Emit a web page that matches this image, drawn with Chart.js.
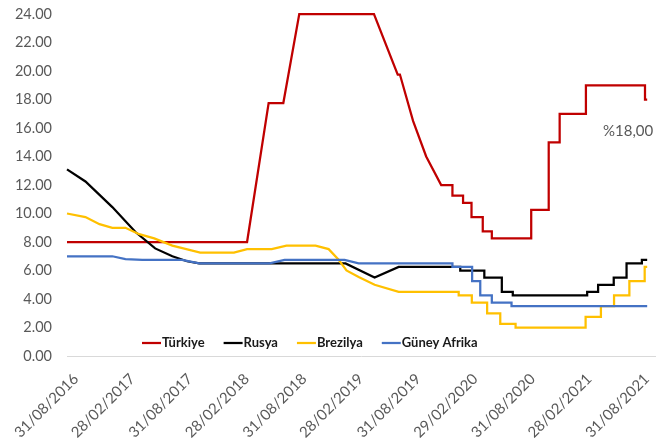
<!DOCTYPE html>
<html>
<head>
<meta charset="utf-8">
<script src="https://cdn.jsdelivr.net/npm/chart.js@4"></script>
<style>
  body { margin: 0; background: #fff; }
  #wrap { width: 658px; height: 442px; }
</style>
</head>
<body>
<div id="wrap"><canvas id="rateChart" width="658" height="442"></canvas></div>
<script>
// Tick labels on the date axis
const tickLabels = ["31/08/2016", "28/02/2017", "31/08/2017", "28/02/2018", "31/08/2018", "28/02/2019",
                    "31/08/2019", "29/02/2020", "31/08/2020", "28/02/2021", "31/08/2021"];
const axisStart = "2016-08-31";
const axisEnd = "2021-10-25";

const seriesNames = ["Türkiye", "Rusya", "Brezilya", "Güney Afrika"];

// Türkiye
const trDates = ["2016-08-31", "2018-03-30", "2018-06-07", "2018-07-24", "2018-09-13", "2019-05-10", "2019-07-25",
                 "2019-08-01", "2019-09-12", "2019-10-24", "2019-12-11", "2020-01-16", "2020-01-16", "2020-02-19",
                 "2020-02-19", "2020-03-17", "2020-03-17", "2020-04-22", "2020-04-22", "2020-05-21", "2020-05-21",
                 "2020-09-24", "2020-09-24", "2020-11-19", "2020-11-19", "2020-12-24", "2020-12-24", "2021-03-18",
                 "2021-03-18", "2021-09-23", "2021-09-23", "2021-09-30"];
const trValues = [8, 8, 17.75, 17.75, 24, 24, 19.75,
                  19.75, 16.5, 14, 12, 12, 11.25, 11.25,
                  10.75, 10.75, 9.75, 9.75, 8.75, 8.75, 8.25,
                  8.25, 10.25, 10.25, 15, 15, 17, 17,
                  19, 19, 18, 18];

// Rusya
const ruDates = ["2016-08-31", "2016-10-29", "2017-01-23", "2017-04-07", "2017-06-09", "2017-08-03", "2017-09-19",
                 "2017-10-28", "2019-02-08", "2019-05-12", "2019-07-28", "2020-02-10", "2020-02-10", "2020-04-27",
                 "2020-04-27", "2020-06-22", "2020-06-22", "2020-07-27", "2020-07-27", "2021-03-22", "2021-03-22",
                 "2021-04-26", "2021-04-26", "2021-06-15", "2021-06-15", "2021-07-26", "2021-07-26", "2021-09-13",
                 "2021-09-13", "2021-09-30"];
const ruValues = [13.1, 12.25, 10.45, 8.7, 7.55, 7.0, 6.65,
                  6.5, 6.5, 5.5, 6.25, 6.25, 6.0, 6.0,
                  5.5, 5.5, 4.5, 4.5, 4.25, 4.25, 4.5,
                  4.5, 5.0, 5.0, 5.5, 5.5, 6.5, 6.5,
                  6.75, 6.75];

// Brezilya
const brDates = ["2016-08-31", "2016-10-29", "2016-12-13", "2017-01-23", "2017-03-06", "2017-04-19", "2017-06-06",
                 "2017-08-03", "2017-10-31", "2018-02-16", "2018-03-30", "2018-06-17", "2018-08-03", "2018-11-04",
                 "2018-12-16", "2019-01-17", "2019-02-11", "2019-03-22", "2019-05-12", "2019-07-28", "2020-02-05",
                 "2020-02-05", "2020-03-18", "2020-03-18", "2020-05-06", "2020-05-06", "2020-06-17", "2020-06-17",
                 "2020-08-05", "2020-08-05", "2021-03-17", "2021-03-17", "2021-05-05", "2021-05-05", "2021-06-16",
                 "2021-06-16", "2021-08-04", "2021-08-04", "2021-09-22", "2021-09-22", "2021-09-30"];
const brValues = [10, 9.75, 9.25, 9, 9, 8.55, 8.25,
                  7.75, 7.25, 7.25, 7.5, 7.5, 7.75, 7.75,
                  7.5, 6.75, 6.0, 5.55, 5.0, 4.5, 4.5,
                  4.25, 4.25, 3.75, 3.75, 3.0, 3.0, 2.25,
                  2.25, 2.0, 2.0, 2.75, 2.75, 3.5, 3.5,
                  4.25, 4.25, 5.25, 5.25, 6.25, 6.25];

// Güney Afrika
const zaDates = ["2016-08-31", "2017-01-23", "2017-03-06", "2017-04-29", "2017-09-03", "2017-10-28", "2018-06-10",
                 "2018-07-28", "2019-02-05", "2019-03-22", "2020-01-16", "2020-01-16", "2020-03-19", "2020-03-19",
                 "2020-04-14", "2020-04-14", "2020-05-21", "2020-05-21", "2020-07-23", "2020-07-23", "2021-09-30"];
const zaValues = [7, 7, 6.8, 6.75, 6.75, 6.5, 6.5,
                  6.75, 6.75, 6.5, 6.5, 6.25, 6.25, 5.25,
                  5.25, 4.25, 4.25, 3.75, 3.75, 3.5, 3.5];

const seriesColors = ["#C00000", "#000000", "#FFC000", "#4472C4"];

// date helpers: days since epoch
function isoToDay(s) {
    return Date.UTC(+s.slice(0, 4), +s.slice(5, 7) - 1, +s.slice(8, 10)) / 86400000;
}
function labelToDay(s) {
    const p = s.split("/");
    return Date.UTC(+p[2], +p[1] - 1, +p[0]) / 86400000;
}
function toPoints(dates, values) {
    return dates.map((d, i) => ({ x: isoToDay(d), y: values[i] }));
}

const tickDays = tickLabels.map(labelToDay);
const tickMap = {};
tickDays.forEach((d, i) => { tickMap[d] = tickLabels[i]; });

const allDates = [trDates, ruDates, brDates, zaDates];
const allValues = [trValues, ruValues, brValues, zaValues];

const datasets = seriesNames.map((name, i) => ({
    label: name,
    data: toPoints(allDates[i], allValues[i]),
    borderColor: seriesColors[i],
    backgroundColor: seriesColors[i],
    borderWidth: 2.25,
    pointRadius: 0,
    tension: 0,
    clip: false,
    order: seriesNames.length - 1 - i   // last series drawn on top, like Excel
}));

// legend inside the plot + end label for Türkiye
const overlayPlugin = {
    id: "overlay",
    afterDatasetsDraw(chart) {
        const ctx = chart.ctx;
        const area = chart.chartArea;
        ctx.save();

        // legend row
        ctx.font = "bold 13px Lato";
        ctx.textBaseline = "middle";
        ctx.textAlign = "left";
        let x = area.left + 75;
        const y = area.bottom - 13;
        chart.data.datasets.forEach(ds => {
            ctx.strokeStyle = ds.borderColor;
            ctx.lineWidth = 2.25;
            ctx.beginPath();
            ctx.moveTo(x, y);
            ctx.lineTo(x + 19, y);
            ctx.stroke();
            ctx.fillStyle = "#1a1a1a";
            ctx.fillText(ds.label, x + 20, y);
            x += 20 + ctx.measureText(ds.label).width + 19;
        });

        // value label under the last Türkiye point
        const meta = chart.getDatasetMeta(0);
        const last = meta.data[meta.data.length - 1];
        const lastValue = trValues[trValues.length - 1];
        ctx.font = "15px Lato";
        ctx.fillStyle = "#595959";
        ctx.textAlign = "right";
        ctx.fillText("%" + lastValue.toFixed(2).replace(".", ","), last.x + 6, last.y + 32);
        ctx.restore();
    }
};

const ctx = document.getElementById("rateChart").getContext("2d");
const rateChart = new Chart(ctx, {
    type: "line",
    data: { datasets: datasets },
    options: {
        responsive: false,
        animation: false,
        devicePixelRatio: 1,
        layout: { padding: { left: 3, right: 3, top: 14, bottom: 0 } },
        plugins: {
            legend: { display: false },
            tooltip: { enabled: false }
        },
        scales: {
            x: {
                type: "linear",
                min: isoToDay(axisStart),
                max: isoToDay(axisEnd),
                afterBuildTicks: axis => { axis.ticks = tickDays.map(v => ({ value: v })); },
                afterFit: axis => {
                    axis.height = 86;
                    axis.paddingLeft = 0;
                    axis.paddingRight = 0;
                },
                grid: { display: false, drawTicks: false },
                border: { display: true, color: "#d9d9d9", width: 1 },
                ticks: {
                    autoSkip: false,
                    minRotation: 45,
                    maxRotation: 45,
                    padding: 14,
                    labelOffset: 9,
                    color: "#595959",
                    font: { family: "Lato", size: 15 },
                    callback: v => tickMap[v] || ""
                }
            },
            y: {
                min: 0,
                max: 24,
                afterFit: axis => {
                    axis.width = 64;
                    axis.paddingTop = 0;
                    axis.paddingBottom = 0;
                },
                grid: { display: false, drawTicks: false },
                border: { display: false },
                ticks: {
                    stepSize: 2,
                    padding: 15,
                    color: "#595959",
                    font: { family: "Lato", size: 14.5 },
                    callback: v => v.toFixed(2)
                }
            }
        }
    },
    plugins: [overlayPlugin]
});
</script>
</body>
</html>
